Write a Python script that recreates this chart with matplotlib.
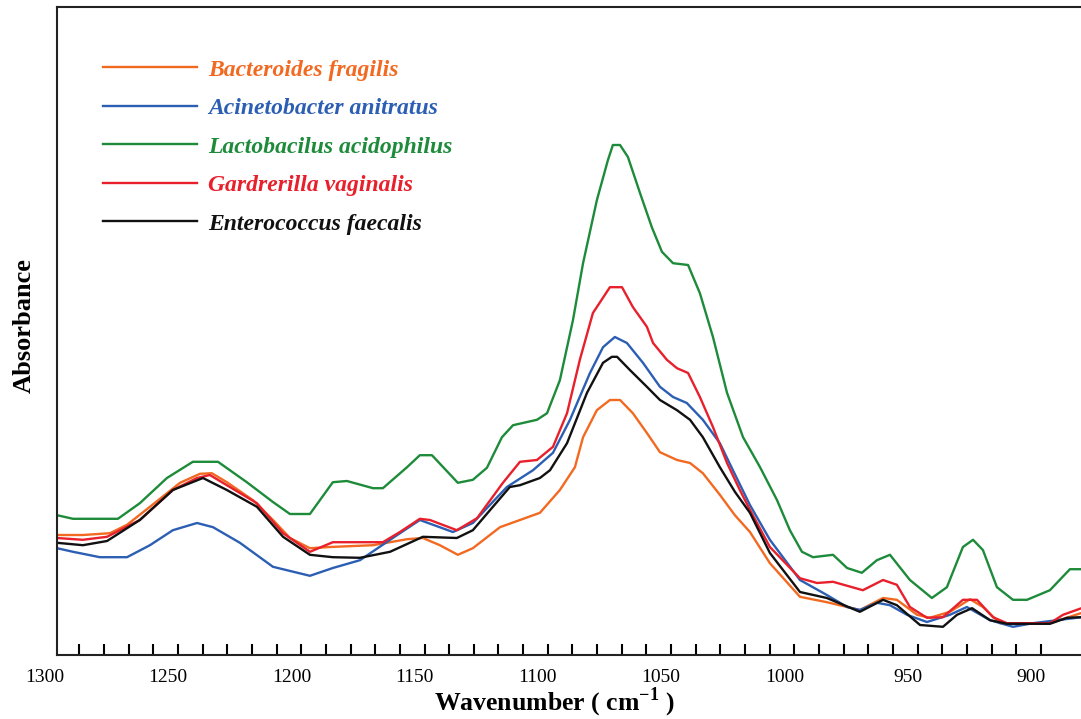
import numpy as np
import matplotlib.pyplot as plt
from matplotlib.ticker import FixedLocator, NullFormatter

# Spektrum FTIR (absorbansi, satuan relatif) untuk lima bakteri
WnBacteroides = [1295.1, 1284.6, 1273.6, 1266.7, 1257.4, 1245.2, 1237.1, 1232.3, 1226.2, 1215.6,
                 1207.5, 1200.6, 1192.5, 1184.4, 1166.9, 1153.1, 1146.7, 1139.8, 1132.5, 1126.4,
                 1115.4, 1107.3, 1099.2, 1091.1, 1085.0, 1081.7, 1076.1, 1070.8, 1066.7, 1061.5,
                 1055.8, 1050.5, 1043.6, 1038.3, 1033.1, 1026.2, 1020.1, 1014.0, 1005.9, 993.7,
                 982.8, 969.4, 960.0, 954.4, 946.2, 941.0, 932.9, 924.7, 919.5, 912.6,
                 892.3, 879.5]
AbsBacteroides = [0.200, 0.200, 0.203, 0.217, 0.247, 0.287, 0.302, 0.303, 0.288, 0.258,
                  0.225, 0.195, 0.178, 0.180, 0.183, 0.193, 0.195, 0.183, 0.167, 0.178,
                  0.213, 0.225, 0.237, 0.275, 0.313, 0.363, 0.408, 0.425, 0.425, 0.403,
                  0.370, 0.338, 0.325, 0.320, 0.303, 0.267, 0.233, 0.205, 0.153, 0.097,
                  0.088, 0.075, 0.095, 0.092, 0.067, 0.062, 0.072, 0.093, 0.080, 0.053,
                  0.053, 0.070]

WnAcinetobacter = [1295.1, 1288.6, 1277.7, 1266.7, 1257.4, 1248.1, 1238.3, 1231.8, 1220.9, 1207.5,
                   1192.5, 1183.2, 1172.2, 1160.0, 1147.9, 1134.5, 1126.4, 1112.6, 1102.0, 1093.9,
                   1087.0, 1078.9, 1073.6, 1068.8, 1063.9, 1057.4, 1050.5, 1045.2, 1039.6, 1033.1,
                   1026.2, 1020.9, 1014.0, 1005.9, 993.7, 982.8, 974.6, 969.4, 962.5, 957.2,
                   950.3, 942.2, 932.9, 926.0, 916.6, 907.3, 899.2, 879.5]
AbsAcinetobacter = [0.178, 0.172, 0.163, 0.163, 0.183, 0.208, 0.220, 0.213, 0.187, 0.147,
                    0.132, 0.145, 0.158, 0.192, 0.225, 0.205, 0.220, 0.280, 0.308, 0.337,
                    0.392, 0.470, 0.513, 0.530, 0.520, 0.487, 0.447, 0.430, 0.420, 0.392,
                    0.353, 0.308, 0.250, 0.192, 0.125, 0.100, 0.080, 0.075, 0.087, 0.083,
                    0.067, 0.055, 0.067, 0.080, 0.058, 0.047, 0.053, 0.063]

WnLactobacilus = [1295.1, 1288.6, 1270.4, 1261.5, 1250.5, 1240.0, 1229.8, 1218.1, 1207.5, 1200.6,
                  1192.5, 1183.2, 1177.5, 1166.9, 1162.9, 1153.1, 1147.9, 1143.0, 1132.5, 1126.4,
                  1120.7, 1114.6, 1110.1, 1100.4, 1096.3, 1091.1, 1085.8, 1081.7, 1076.1, 1071.6,
                  1069.6, 1066.7, 1063.5, 1058.6, 1053.8, 1049.7, 1045.2, 1039.1, 1034.3, 1029.0,
                  1023.3, 1016.8, 1009.9, 1003.0, 997.8, 992.9, 988.4, 980.3, 974.6, 968.6,
                  962.5, 957.2, 949.1, 940.2, 934.1, 927.6, 923.5, 919.5, 913.8, 907.3,
                  901.6, 892.3, 884.2, 879.5]
AbsLactobacilus = [0.233, 0.227, 0.227, 0.253, 0.295, 0.322, 0.322, 0.288, 0.255, 0.235,
                   0.235, 0.288, 0.290, 0.278, 0.278, 0.313, 0.333, 0.333, 0.287, 0.292,
                   0.312, 0.363, 0.383, 0.392, 0.403, 0.458, 0.558, 0.653, 0.758, 0.825,
                   0.850, 0.850, 0.830, 0.770, 0.713, 0.672, 0.653, 0.650, 0.603, 0.530,
                   0.437, 0.363, 0.313, 0.258, 0.208, 0.172, 0.163, 0.167, 0.145, 0.137,
                   0.158, 0.167, 0.125, 0.095, 0.113, 0.180, 0.192, 0.175, 0.113, 0.092,
                   0.092, 0.108, 0.143, 0.143]

WnGardrerilla = [1295.1, 1284.6, 1274.8, 1261.5, 1248.1, 1238.3, 1233.1, 1226.2, 1214.0, 1203.4,
                 1192.5, 1183.2, 1162.9, 1156.0, 1147.9, 1143.8, 1132.9, 1124.7, 1114.2, 1107.3,
                 1100.4, 1093.9, 1088.2, 1083.0, 1077.7, 1070.8, 1065.9, 1061.5, 1055.8, 1053.3,
                 1047.7, 1043.6, 1039.1, 1034.3, 1029.0, 1023.3, 1018.1, 1014.0, 1005.9, 993.7,
                 986.8, 980.3, 968.2, 960.0, 954.4, 949.1, 942.2, 935.7, 927.6, 921.9,
                 915.4, 909.7, 892.3, 887.0, 879.5]
AbsGardrerilla = [0.195, 0.192, 0.197, 0.225, 0.275, 0.295, 0.300, 0.283, 0.253, 0.203,
                  0.172, 0.188, 0.188, 0.205, 0.227, 0.225, 0.208, 0.228, 0.287, 0.322,
                  0.325, 0.347, 0.403, 0.492, 0.570, 0.613, 0.613, 0.580, 0.547, 0.520,
                  0.492, 0.478, 0.470, 0.430, 0.380, 0.320, 0.275, 0.242, 0.180, 0.128,
                  0.120, 0.122, 0.108, 0.125, 0.117, 0.080, 0.062, 0.063, 0.092, 0.092,
                  0.063, 0.053, 0.053, 0.067, 0.078]

WnEnterococcus = [1295.1, 1284.6, 1274.8, 1261.5, 1248.1, 1235.9, 1226.2, 1214.0, 1203.4, 1192.5,
                  1183.2, 1172.2, 1160.0, 1146.7, 1132.9, 1126.4, 1111.4, 1107.3, 1099.2, 1095.1,
                  1088.2, 1080.1, 1073.6, 1070.0, 1067.9, 1062.7, 1055.8, 1050.5, 1043.6, 1038.3,
                  1033.1, 1026.2, 1020.1, 1014.0, 1005.9, 993.7, 982.8, 969.4, 960.0, 954.4,
                  945.0, 935.7, 930.0, 923.9, 916.6, 909.7, 892.3, 885.4, 879.5]
AbsEnterococcus = [0.187, 0.183, 0.190, 0.225, 0.275, 0.295, 0.275, 0.247, 0.197, 0.167,
                   0.163, 0.162, 0.172, 0.197, 0.195, 0.208, 0.280, 0.283, 0.295, 0.308,
                   0.353, 0.437, 0.487, 0.497, 0.497, 0.475, 0.447, 0.425, 0.408, 0.392,
                   0.363, 0.313, 0.272, 0.237, 0.170, 0.105, 0.095, 0.072, 0.092, 0.083,
                   0.050, 0.047, 0.067, 0.078, 0.058, 0.052, 0.052, 0.062, 0.063]

NamaBakteri = ["Bacteroides fragilis", "Acinetobacter anitratus", "Lactobacilus acidophilus",
               "Gardrerilla vaginalis", "Enterococcus faecalis"]
Warna = ["#f26a21", "#2c5fb3", "#1d8b3a", "#e8202c", "#111111"]

SemuaSpektrum = [
    (WnBacteroides, AbsBacteroides),
    (WnAcinetobacter, AbsAcinetobacter),
    (WnLactobacilus, AbsLactobacilus),
    (WnGardrerilla, AbsGardrerilla),
    (WnEnterococcus, AbsEnterococcus),
]

plt.rcParams['font.family'] = ['Liberation Serif', 'DejaVu Serif']
plt.rcParams['mathtext.fontset'] = 'custom'
plt.rcParams['mathtext.rm'] = 'Liberation Serif'
plt.rcParams['mathtext.bf'] = 'Liberation Serif:bold'

fig = plt.figure(figsize=(10.81, 7.19), dpi=100)
ax = fig.add_axes([57 / 1081, 64 / 719, 1024 / 1081, 648 / 719])

for (wn, ab), nama, warna in zip(SemuaSpektrum, NamaBakteri, Warna):
    ax.plot(wn, ab, color=warna, lw=1.7, label=nama)

ax.set_xlim(1295.1, 879.7)
ax.set_ylim(0, 1.08)

# Sumbu x: label tiap 50, garis kecil tiap 10
PadLabel = 10
ax.set_xticks([1250, 1200, 1150, 1100, 1050, 1000, 950, 900])
ax.xaxis.set_minor_locator(FixedLocator(np.arange(1286, 890, -10)))
ax.xaxis.set_minor_formatter(NullFormatter())
ax.tick_params(axis='x', which='major', length=0, pad=PadLabel, labelsize=14)
ax.tick_params(axis='x', which='minor', direction='in', length=8, width=1.5)
ax.set_yticks([])
# label 1300 berada tepat di luar batas kiri
ax.text(1300, -PadLabel * 100 / 72 / 648, "1300", transform=ax.get_xaxis_transform(),
        ha='center', va='top', fontsize=14, clip_on=False)

for s in ['left', 'top', 'bottom']:
    ax.spines[s].set_linewidth(1.5)
    ax.spines[s].set_color('#222222')
ax.spines['right'].set_visible(False)

ax.set_xlabel("Wavenumber ( cm$^{\\mathbf{-1}}$ )", fontsize=18.5, fontweight='bold', va='center')
ax.xaxis.set_label_coords(497 / 1024, -47 / 648)
ax.set_ylabel("Absorbance", fontsize=19, fontweight='bold')
ax.yaxis.set_label_coords(-21 / 1024, 0.508)

leg = ax.legend(loc='upper left', bbox_to_anchor=(46 / 1024, 1 - 52 / 648), frameon=False,
                handlelength=4.0, handletextpad=0.45, labelspacing=0.72, borderpad=0,
                borderaxespad=0, labelcolor='linecolor',
                prop={'family': 'Liberation Serif', 'weight': 'bold', 'style': 'italic', 'size': 17})
for garis in leg.get_lines():
    garis.set_linewidth(1.7)

fig.savefig("out.png", dpi=100)
